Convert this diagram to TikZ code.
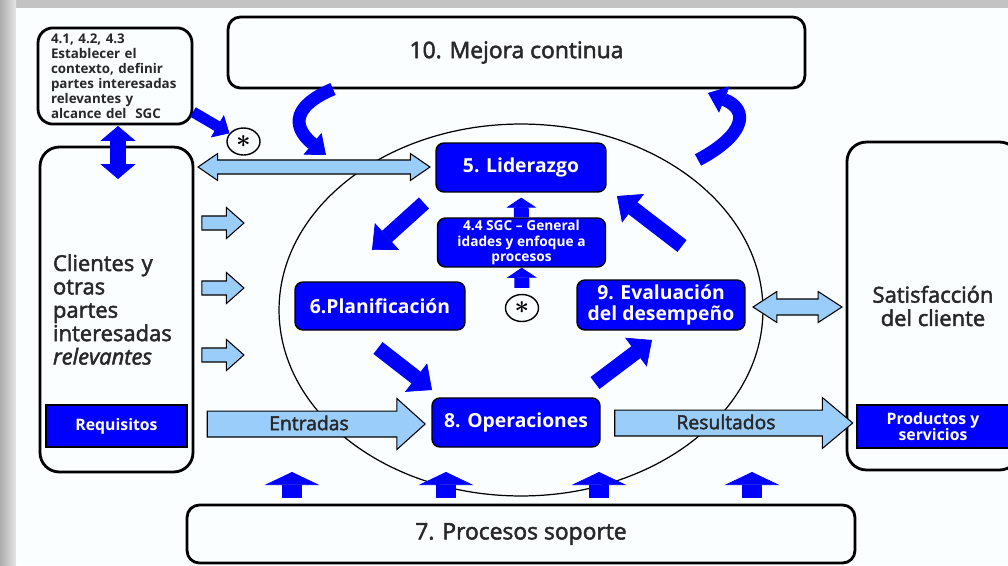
\documentclass[tikz,border=0pt]{standalone}
\usepackage{fontspec}
\setmainfont{Open Sans}
\newfontfamily\midweight[FakeBold=2.2]{Open Sans}
\usepackage{tikz}
\usetikzlibrary{shapes.geometric, shapes.arrows, arrows.meta, positioning, calc}
\definecolor{isoblue}{RGB}{0, 0, 255}
\definecolor{isolight}{RGB}{155, 205, 250}
\definecolor{isotext}{RGB}{40, 40, 40}
\definecolor{isopaper}{RGB}{250, 254, 255}
\definecolor{isoframe}{RGB}{195, 195, 195}

\begin{document}
\begin{tikzpicture}[
    x=0.02cm, y=-0.02cm,
    every node/.style={font=\midweight\fontsize{12.5}{13.3}\selectfont, text=isotext},
    whitebox/.style={rectangle, draw=black, line width=1.6pt, fill=isopaper, rounded corners=7pt},
    bluebox/.style={rectangle, draw=black, line width=0.8pt, fill=isoblue, rounded corners=4.5pt, align=center, inner sep=0pt, text=white, font=\bfseries\fontsize{11}{11.5}\selectfont},
    reqbox/.style={rectangle, draw=black, line width=1pt, fill=isoblue, align=center, inner sep=0pt, text=white, font=\bfseries\fontsize{9}{9.2}\selectfont},
    starmark/.style={ellipse, draw=black, line width=0.8pt, fill=isopaper, minimum width=0.66cm, minimum height=0.54cm, inner sep=0pt, text=black, font=\fontsize{15}{15}\selectfont\boldmath},
    inarrow/.style={single arrow, draw=black, line width=0.6pt, fill=isolight, inner xsep=0pt, inner ysep=0pt, single arrow head indent=0pt},
    bothways/.style={double arrow, draw=black, line width=0.6pt, fill=isolight, inner xsep=0pt, inner ysep=0pt, double arrow head indent=0pt},
    thrust/.style={draw=isoblue, line width=8.5pt, -{Triangle[length=11.5pt, width=20.5pt, line width=0.4pt]}},
    twoway/.style={draw=isoblue, line width=9pt, {Triangle[length=8.5pt, width=20pt, line width=0.4pt]}-{Triangle[length=8.5pt, width=20pt, line width=0.4pt]}},
    nudge/.style={draw=isoblue, line width=6.2pt, -{Triangle[length=8pt, width=14.7pt, line width=0.4pt]}},
    lift/.style={draw=isoblue, line width=8.5pt, -{Triangle[length=5.7pt, width=17pt, line width=0.4pt]}},
    support/.style={draw=isoblue, line width=11.3pt, -{Triangle[length=7.4pt, width=31pt, line width=0.4pt]}},
    swirl/.style={draw=isoblue, line width=7.4pt, -{Triangle[length=10pt, width=16pt, line width=0.4pt]}}
]
\useasboundingbox (0,0) rectangle (1008,565);

% Frame
\fill[isoframe] (0,0) rectangle (1008,565);
\shade[left color=gray!65, right color=gray!20] (0,0) rectangle (16,565);
\fill[isopaper] (16,8) rectangle (1008,565);

% Cycle
\node[ellipse, draw=black, line width=0.7pt, minimum width=9.68cm, minimum height=7.44cm] (ciclo) at (521,310) {};

% Outer boxes
\node[whitebox, minimum width=11.54cm, minimum height=1.42cm, font=\midweight\fontsize{13}{14}\selectfont] (mejora) at (516.5,52.5) {10. Mejora continua};
\node[whitebox, minimum width=13.36cm, minimum height=1.16cm, font=\midweight\fontsize{13}{14}\selectfont] (soporte) at (521,534) {7. Procesos soporte};
\node[whitebox, rounded corners=8.5pt, minimum width=3.08cm, minimum height=1.92cm, text width=2.56cm, align=left, font=\bfseries\fontsize{7.6}{8.5}\selectfont] (contexto) at (115,76) {4.1, 4.2, 4.3\\Establecer el\\contexto, definir\\partes interesadas\\relevantes y\\alcance del~ SGC};
\node[whitebox, rounded corners=11pt, minimum width=3.06cm, minimum height=6.5cm, text width=2.54cm, align=left] (clientes) at (116.5,309.5) {Clientes y\\otras\\partes\\interesadas\\\textit{relevantes}};
\node[reqbox, minimum width=2.82cm, minimum height=0.84cm] (requisitos) at (116.5,426) {Requisitos};
\node[whitebox, rounded corners=11pt, minimum width=3.44cm, minimum height=6.56cm, align=center] (satisf) at (933,306) {Satisfacción\\del cliente};
\node[reqbox, minimum width=3.04cm, minimum height=0.86cm] (productos) at (933,426.5) {Productos y\\servicios};

% Process boxes
\node[bluebox, minimum width=3.4cm, minimum height=0.98cm] (liderazgo) at (521,167.5) {5. Liderazgo};
\node[bluebox, minimum width=3.36cm, minimum height=0.98cm, font=\bfseries\fontsize{7.8}{9}\selectfont] (sgc) at (521.5,242.5) {4.4 SGC -- General\\idades y enfoque a\\procesos};
\node[bluebox, minimum width=3.4cm, minimum height=0.96cm] (planif) at (380,306) {6.Planificación};
\node[bluebox, minimum width=3.36cm, minimum height=1cm] (evaluacion) at (661,305) {9. Evaluación\\del desempeño};
\node[bluebox, minimum width=3.36cm, minimum height=0.98cm] (operac) at (516,422.5) {8. Operaciones};

% Markers
\node[starmark] (astctx) at (243.5,141.5) {$\ast$};
\node[starmark] (astsgc) at (522,308) {$\ast$};

% Light arrows
\node[bothways, minimum height=4.64cm, text height=3.69pt, text depth=3.69pt, double arrow head extend=3.68pt, double arrow tip angle=69] (hacialid) at (314,167) {};
\foreach \y/\n in {223/1, 288/2, 355/3}
  \node[inarrow, minimum height=0.84cm, text height=3.69pt, text depth=3.69pt, single arrow head extend=4.82pt, single arrow tip angle=83] (entrada\n) at (219,\y) {};
\node[inarrow, minimum height=4.36cm, text height=10.6pt, text depth=3.57pt, single arrow head extend=7.09pt, single arrow tip angle=84, font=\midweight\fontsize{11}{12}\selectfont] (entradas) at (309,424) {Entradas};
\node[inarrow, minimum height=4.76cm, text height=10.6pt, text depth=3.57pt, single arrow head extend=7.09pt, single arrow tip angle=80, font=\midweight\fontsize{11}{12}\selectfont] (resultados) at (726,423) {Resultados};
\node[bothways, minimum height=1.78cm, text height=4.25pt, text depth=4.25pt, double arrow head extend=4.25pt, double arrow tip angle=66] (haciasat) at (797.5,307) {};

% Arrow ends
\coordinate (ctxfoot) at (118,126);
\coordinate (clitop) at (118,179);
\coordinate (ctxcorner) at (193,112);
\coordinate (lidout) at (424,203);
\coordinate (planin) at (372,250);
\coordinate (planout) at (378,348);
\coordinate (operin) at (432,390);
\coordinate (operout) at (595,383);
\coordinate (evalin) at (652,340);
\coordinate (evalout) at (682,246);
\coordinate (lidin) at (617,196);
\coordinate (mejout) at (333,89);
\coordinate (cicloin) at (326,155);
\coordinate (cicloout) at (698,160);
\coordinate (mejin) at (708,93);

% Blue arrows
\draw[twoway] (ctxfoot) -- (clitop);
\draw[nudge] (ctxcorner) -- (astctx);
\draw[lift, shorten >=2.8pt] (sgc) -- (liderazgo);
\draw[lift, shorten <=3.4pt] (astsgc) -- (sgc);
\draw[thrust] (lidout) -- (planin);
\draw[thrust] (planout) -- (operin);
\draw[thrust] (operout) -- (evalin);
\draw[thrust] (evalout) -- (lidin);
\draw[swirl] (mejout) .. controls (295,105) and (290,125) .. (cicloin);
\draw[swirl] (cicloout) .. controls (745,135) and (750,110) .. (mejin);
\foreach \x [count=\i] in {292, 446, 599, 752} {
  \coordinate (base\i) at (\x,498);
  \coordinate (lift\i) at (\x,472);
  \draw[support] (base\i) -- (lift\i);
}

\end{tikzpicture}
\end{document}
